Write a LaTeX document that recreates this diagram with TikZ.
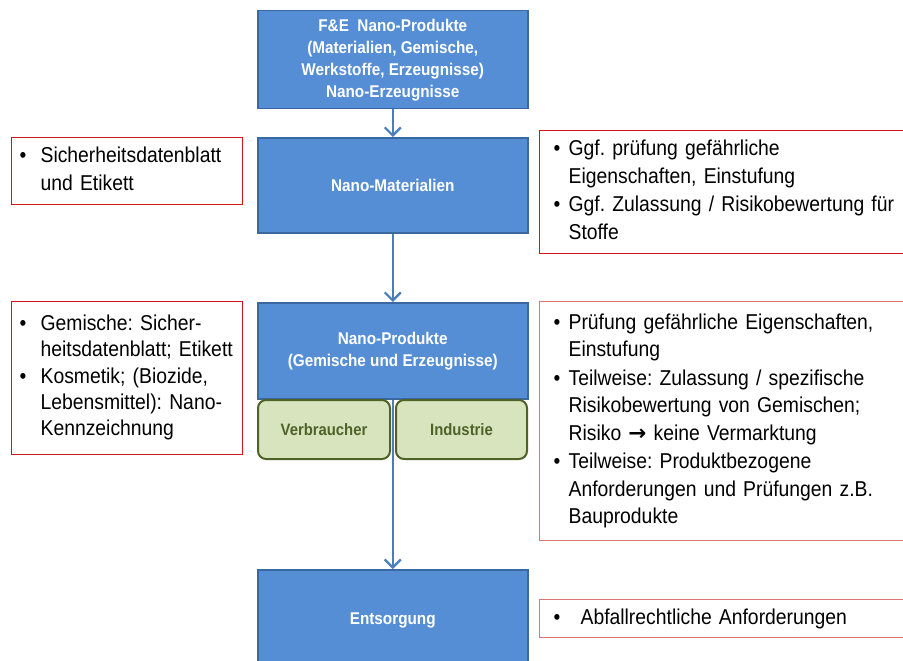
\documentclass[tikz,border=0pt]{standalone}
\usepackage{fontspec}
\setmainfont{Liberation Sans}
\newfontfamily\narrowfont[FakeStretch=0.9]{Liberation Sans}
\newfontfamily\arrowfont{DejaVu Sans}
\usetikzlibrary{arrows.meta}
\definecolor{boxblue}{RGB}{85,142,213}
\definecolor{boxblueborder}{RGB}{60,104,160}
\definecolor{arrowblue}{RGB}{74,126,187}
\definecolor{greenfill}{RGB}{215,228,189}
\definecolor{greenborder}{RGB}{79,98,40}
\definecolor{redA}{RGB}{210,20,20}
\definecolor{redB}{RGB}{222,115,115}
\newcommand{\bitem}[2]{\noindent\makebox[#1][l]{\textbullet}\begin{tabular}[t]{@{}l@{}}#2\end{tabular}\par}
\tikzset{
  bluebox/.style={draw=boxblueborder, line width=1.5pt, fill=boxblue, text=white,
    font=\narrowfont\bfseries\fontsize{17}{22}\selectfont, align=center,
    minimum width=270pt, inner sep=0pt, anchor=north west},
  greenbox/.style={draw=greenborder, line width=2pt, fill=greenfill, text=greenborder,
    rounded corners=8pt, font=\narrowfont\bfseries\fontsize{16.5}{22}\selectfont,
    minimum height=59pt, inner sep=0pt, anchor=north west},
  notebox/.style={line width=1.2pt, inner ysep=0pt, anchor=north west,
    font=\narrowfont\fontsize{21.5}{27.5}\selectfont\frenchspacing},
  flow/.style={draw=arrowblue, line width=2.2pt,
    -{Straight Barb[length=8pt,width=16pt]}}
}
\begin{document}
\begin{tikzpicture}[x=1pt,y=-1pt]
\useasboundingbox (0,0) rectangle (903,661);
\clip (0,0) rectangle (903,661);
% main flow boxes
\node[bluebox, minimum height=98pt] (fe) at (257,10)
  {F\&E\ \ Nano-Produkte\\(Materialien, Gemische,\\Werkstoffe, Erzeugnisse)\\Nano-Erzeugnisse};
\node[bluebox, minimum height=95pt] (mat) at (257,137) {Nano-Materialien};
\node[bluebox, minimum height=96pt] (np) at (257,302)
  {Nano-Produkte\\(Gemische und Erzeugnisse)};
\node[bluebox, minimum height=102pt] (ent) at (257,569) {Entsorgung};
% green boxes
\node[greenbox, minimum width=132pt] (verb) at (257,399) {Verbraucher};
\node[greenbox, minimum width=131pt] (ind) at (395,399) {Industrie};
% connectors
\draw[flow] (fe.south) -- (mat.north);
\draw[flow] (mat.south) -- (np.north);
\draw[flow] (np.south) -- (ent.north);
% left notes
\node[notebox, draw=redA, minimum width=231pt, minimum height=67pt,
  inner xsep=8pt, text width=215pt] (l1) at (11,137)
  {\bitem{21pt}{Sicherheitsdatenblatt\\und Etikett}};
\node[notebox, draw=redA, minimum width=231pt, minimum height=153pt,
  inner xsep=8pt, text width=215pt, font=\narrowfont\fontsize{21.5}{26}\selectfont\frenchspacing] (l2) at (11,301)
  {\bitem{21pt}{Gemische: Sicher-\\heitsdatenblatt; Etikett}%
   \bitem{21pt}{Kosmetik; (Biozide,\\Lebensmittel): Nano-\\Kennzeichnung}};
% right notes
\node[notebox, draw=redA, minimum width=370pt, minimum height=123pt,
  inner xsep=14pt, text width=342pt] (r1) at (539,130)
  {\bitem{15pt}{Ggf. prüfung gefährliche\\Eigenschaften, Einstufung}%
   \bitem{15pt}{Ggf. Zulassung / Risikobewertung für\\Stoffe}};
\node[notebox, draw=redB, minimum width=370pt, minimum height=239pt,
  inner xsep=14pt, text width=342pt] (r2) at (539,301)
  {\bitem{15pt}{Prüfung gefährliche Eigenschaften,\\Einstufung}%
   \bitem{15pt}{Teilweise: Zulassung / spezifische\\Risikobewertung von Gemischen;\\Risiko {\arrowfont\bfseries →} keine Vermarktung}%
   \bitem{15pt}{Teilweise: Produktbezogene\\Anforderungen und Prüfungen z.B.\\Bauprodukte}};
\node[notebox, draw=redB, minimum width=370pt, minimum height=38pt,
  inner xsep=14pt, text width=342pt] (r3) at (539,599)
  {\bitem{27pt}{Abfallrechtliche Anforderungen}};
\end{tikzpicture}
\end{document}
